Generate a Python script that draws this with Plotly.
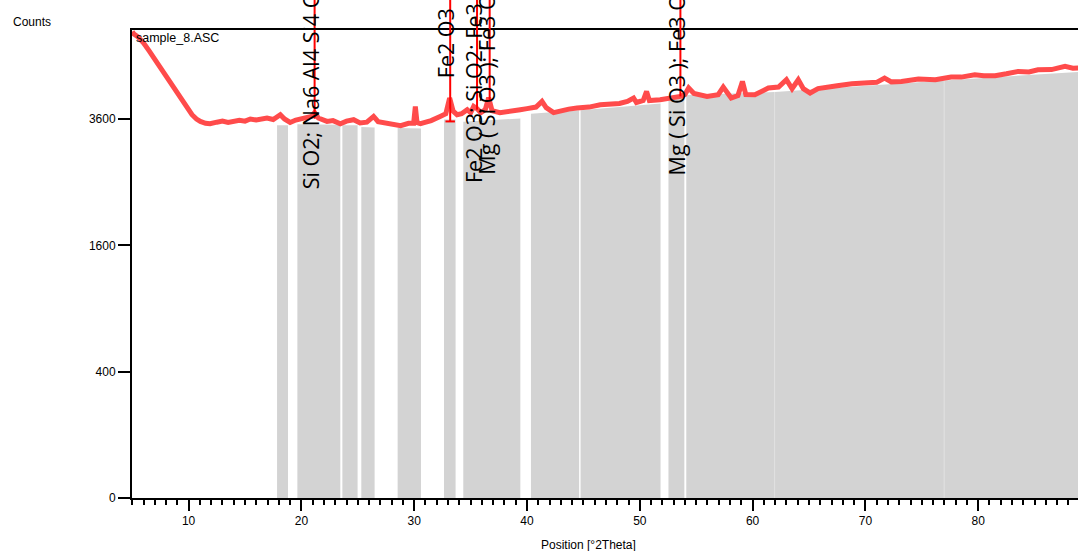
import numpy as np
import plotly.graph_objects as go

# ---- data ----
pos_x = [5.0, 5.12, 5.5, 6.01, 6.5, 6.9, 7.4, 7.78, 8.2, 8.67, 9.1, 9.56, 10.0, 10.3, 10.7,
         11.04, 11.5, 11.9, 12.5, 13.0, 13.5, 14.0, 14.5, 15.0, 15.47, 16.0, 16.5, 16.95,
         17.5, 18.13, 18.5, 19.0, 19.5, 20.0, 20.5, 20.9, 21.17, 21.5, 22.27, 22.8, 23.45,
         24.0, 24.63, 25.2, 25.8, 26.4, 26.8, 27.6, 28.2, 28.8, 29.5, 29.95, 30.1, 30.25,
         30.55, 31.0, 31.5, 32.3, 32.8, 33.14, 33.45, 33.8, 34.2, 34.7, 35.0, 35.27, 35.57,
         35.9, 36.3, 36.6, 36.9, 37.6, 38.5, 39.4, 40.0, 40.8, 41.33, 41.7, 42.36, 43.0,
         43.7, 44.43, 45.5, 46.5, 47.5, 48.2, 48.9, 49.45, 49.7, 50.3, 50.6, 50.85, 51.8,
         52.7, 53.6, 54.0, 54.33, 54.8, 55.96, 56.95, 57.4, 58.1, 58.7, 59.1, 59.4, 60.2,
         60.8, 61.4, 62.3, 63.0, 63.5, 64.05, 64.5, 65.1, 65.8, 66.4, 67.5, 68.8, 70.3,
         71.0, 71.7, 72.3, 73.2, 74.7, 76.2, 77.6, 78.5, 79.7, 80.5, 81.5, 82.5, 83.55,
         84.5, 85.3, 86.5, 87.7, 88.4, 88.9]
counts = [5450, 5402, 5330, 5188, 5010, 4858, 4680, 4533, 4380, 4219, 4060, 3916, 3790, 3682, 3600,
          3554, 3520, 3511, 3540, 3560, 3535, 3554, 3575, 3560, 3600, 3580, 3610, 3619,
          3590, 3682, 3600, 3535, 3580, 3600, 3619, 3650, 3721, 3620, 3554, 3570, 3511,
          3560, 3587, 3524, 3540, 3649, 3550, 3524, 3510, 3474, 3520, 3520, 3843, 3530,
          3511, 3540, 3570, 3649, 3700, 4010, 3750, 3682, 3700, 3779, 3720, 3843, 3800,
          3720, 3780, 4016, 3760, 3721, 3740, 3779, 3800, 3830, 3942, 3820, 3721, 3760,
          3790, 3812, 3830, 3876, 3880, 3900, 3942, 4010, 3920, 3960, 4143, 3960, 3976,
          4000, 4042, 4080, 4213, 4100, 4042, 4076, 4233, 4010, 4060, 4349, 4080, 4076,
          4150, 4213, 4233, 4385, 4198, 4385, 4200, 4110, 4200, 4213, 4260, 4302, 4316,
          4330, 4421, 4340, 4349, 4400, 4385, 4442, 4440, 4490, 4470, 4469, 4510, 4561,
          4550, 4597, 4600, 4668, 4630, 4634]

# background (grey) segments: start, end, background counts at start / end
bg_start = [17.84, 19.64, 23.63, 25.31, 28.53, 32.64, 34.35, 40.35, 44.75, 52.54, 54.12, 61.99, 76.99]
bg_end   = [18.81, 23.45, 24.98, 26.49, 30.60, 33.67, 39.41, 44.62, 51.84, 53.95, 61.96, 76.96, 88.85]
bg_c0    = [3480, 3500, 3480, 3450, 3430, 3590, 3550, 3700, 3770, 4010, 4070, 4130, 4370]
bg_c1    = [3480, 3490, 3480, 3440, 3420, 3590, 3610, 3770, 3900, 4040, 4130, 4370, 4550]

# identified phase peaks
peak_pos = [21.17, 33.19, 35.57, 36.69, 53.6]
peak_cnt = [3605, 3554, 3779, 3976, 4042]
peak_lab = ["Si O2; Na6 Al4 Si4 O17", "Fe2 O3", "Fe2 O3; Si O2; Fe3 O4",
            "Mg ( Si O3 ); Fe3 O4", "Mg ( Si O3 ); Fe3 O4"]

ytick_vals = [0, 400, 1600, 3600]
ytick_text = ["0", "400", "1600", "3600"]

# ---- layout constants ----
W, H = 1078, 551
ML, MT, MB = 132, 30, 53
PH = H - MT - MB
XR = [4.98, 88.85]
YTOP = 74.09  # sqrt(counts) at the top frame

def sq(v):
    return np.sqrt(np.asarray(v, dtype=float))

fig = go.Figure()

for a, b, c0, c1 in zip(bg_start, bg_end, bg_c0, bg_c1):
    fig.add_trace(go.Scatter(
        x=[a, a, b, b], y=[0, sq(c0), sq(c1), 0], mode="lines",
        fill="toself", fillcolor="#D3D3D3", line=dict(width=0, color="#D3D3D3"),
        hoverinfo="skip", showlegend=False))

fig.add_trace(go.Scatter(x=pos_x, y=sq(counts), mode="lines",
                         line=dict(color="#FF4B4B", width=5), showlegend=False))

shapes = []
top_paper = 1 + MT / PH
for i, (p, c) in enumerate(zip(peak_pos, peak_cnt)):
    y0 = float(sq(c)) / YTOP
    shapes.append(dict(type="line", xref="x", yref="paper", x0=p, x1=p, y0=y0, y1=top_paper,
                       line=dict(color="#FF0000", width=2)))
    if i == 1:
        shapes.append(dict(type="line", xref="x", yref="paper", x0=p - 0.42, x1=p + 0.42,
                           y0=y0, y1=y0, line=dict(color="#FF0000", width=2)))

label_bottom_px = [191.7, 80, 185, 177, 177]
annotations = []
for p, lab, bpx in zip(peak_pos, peak_lab, label_bottom_px):
    annotations.append(dict(x=p, xref="x", y=(H - MB - bpx) / PH, yref="paper",
                            text=lab, textangle=-90, showarrow=False,
                            xanchor="center", yanchor="bottom", xshift=-4,
                            font=dict(family="Open Sans", size=21.5, color="black")))

annotations += [
    dict(x=(11 - ML) / (W - ML), y=(H - MB - 21.7) / PH, xref="paper", yref="paper",
         text="Counts", showarrow=False, xanchor="left", yanchor="middle",
         font=dict(family="Liberation Sans", size=12, color="black")),
    dict(x=(134 - ML) / (W - ML), y=(H - MB - 37.7) / PH, xref="paper", yref="paper",
         text="sample_8.ASC", showarrow=False, xanchor="left", yanchor="middle",
         font=dict(family="Liberation Sans", size=12.5, color="black")),
    dict(x=(588 - ML) / (W - ML), y=(H - MB - 545) / PH, xref="paper", yref="paper",
         text="Position [°2Theta]", showarrow=False, xanchor="center", yanchor="middle",
         font=dict(family="Liberation Sans", size=12, color="black")),
]

fig.update_layout(
    width=W, height=H, margin=dict(l=ML, r=0, t=MT, b=MB, pad=0),
    paper_bgcolor="white", plot_bgcolor="white",
    shapes=shapes, annotations=annotations,
    xaxis=dict(range=XR, showgrid=False, zeroline=False, showline=True, linecolor="black",
               linewidth=2, mirror=True, ticks="outside", ticklen=11, tickwidth=2,
               tickcolor="black", tickmode="linear", tick0=0, dtick=10,
               tickfont=dict(family="Liberation Sans", size=12, color="black"),
               minor=dict(ticks="outside", ticklen=5, tickwidth=1.5, tickcolor="black",
                          dtick=1, tick0=0, showgrid=False)),
    yaxis=dict(range=[0, YTOP], showgrid=False, zeroline=False, showline=True,
               linecolor="black", linewidth=2, ticks="outside", ticklen=12, tickwidth=2,
               tickcolor="black", tickmode="array", tickvals=list(sq(ytick_vals)),
               ticktext=ytick_text,
               tickfont=dict(family="Liberation Sans", size=12, color="black")),
)

fig.write_html("out.html", config={"displayModeBar": False},
               post_script="document.body.style.margin='0px';")
